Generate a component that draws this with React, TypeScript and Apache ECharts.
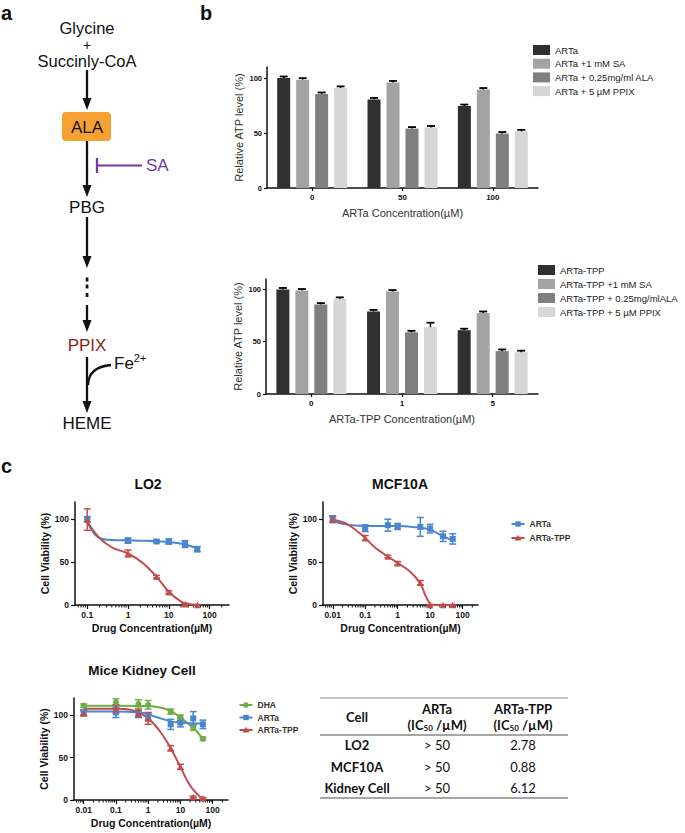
import React, { useEffect, useRef } from 'react';
import * as echarts from 'echarts';

const FONT = '"Liberation Sans", Arial, Helvetica, sans-serif';
const TFONT = 'Lato, "Liberation Sans", sans-serif';

// ---------------- Panel b: relative ATP level ----------------
const bTopCategories = ['0', '50', '100'];
const bTopNames = ['ARTa', 'ARTa +1 mM SA', 'ARTa + 0.25mg/ml ALA', 'ARTa + 5 µM PPIX'];
const bTopArta = [100, 80.5, 74.5];
const bTopSA = [98.5, 96, 89.5];
const bTopALA = [85.5, 54, 49.5];
const bTopPPIX = [91, 55, 51.5];
const bTopErr = [
  [0.5, 1.2, 0.6],
  [0.6, 1.2, 0.8],
  [1.2, 0.8, 1.0],
  [0.6, 0.6, 0.5],
];

const bBotCategories = ['0', '1', '5'];
const bBotNames = ['ARTa-TPP', 'ARTa-TPP +1 mM SA', 'ARTa-TPP + 0.25mg/mlALA', 'ARTa-TPP + 5 µM PPIX'];
const bBotArta = [100, 79, 61];
const bBotSA = [99, 98, 77.5];
const bBotALA = [85.5, 59, 41];
const bBotPPIX = [91, 64, 40];
const bBotErr = [
  [0.4, 0.3, 0.4],
  [0.5, 0.8, 0.8],
  [1.0, 1.2, 1.6],
  [0.5, 4.2, 0.5],
];

const barColors = ['#303030', '#a3a3a3', '#7f7f7f', '#d6d6d6'];
const yTicksB = [0, 50, 100];

// ---------------- Panel c: cell viability ----------------
const yTicksC = [0, 50, 100];

const lo2X = [0.1, 1, 5, 10, 25, 50];
const lo2ArtaY = [100, 75, 74, 74, 71, 65];
const lo2ArtaErr = [3, 3, 1.5, 3, 4, 3];
const lo2TppY = [99.5, 60, 33, 15, 1, 0];
const lo2TppErr = [12.5, 4, 1.5, 1.5, 1, 0.5];
const lo2ArtaFit = [[0.1, 96], [0.13, 87], [0.17, 80], [0.25, 76.5], [0.5, 75.5], [1, 75.3], [3, 74.8], [10, 73.5], [25, 70.5], [50, 66]];
const lo2TppFit = [[0.1, 97], [0.15, 85], [0.2, 78], [0.3, 71], [0.45, 66], [1, 60], [2.3, 49], [5, 33], [10, 15.5], [20, 4], [30, 1.2], [50, 0]];

const mcfX = [0.01, 0.1, 0.5, 1, 5, 10, 25, 50];
const mcfArtaY = [100, 89.5, 93, 91.5, 91, 89, 80, 77];
const mcfArtaErr = [4, 4, 7, 3.5, 11, 5, 6, 6];
const mcfTppY = [100, 78, 56.5, 48.5, 26, 0, 0, 0];
const mcfTppErr = [3, 3, 1.5, 2, 2.5, 0.5, 0.5, 0.5];
const mcfArtaFit = [[0.01, 97.5], [0.02, 94.5], [0.05, 92.5], [0.1, 92], [1, 92], [3, 91], [10, 88], [20, 82], [50, 75]];
const mcfTppFit = [[0.01, 99.5], [0.03, 93.5], [0.1, 78], [0.2, 67], [0.5, 56.5], [1, 49], [2.4, 39], [5, 25], [7, 12], [9, 4], [12, 0], [50, 0]];

const kidX = [0.01, 0.1, 0.5, 1, 5, 10, 25, 50];
const kidDhaY = [111, 115, 113, 112, 104, 97, 85, 72];
const kidDhaErr = [2, 4, 5, 5, 3, 3, 3, 2];
const kidArtaY = [103, 103, 101, 98, 89, 91, 96, 89];
const kidArtaErr = [3, 6, 4, 4, 6, 5, 8, 5];
const kidTppY = [102, 107, 102, 96, 61, 39, 3.5, 2];
const kidTppErr = [3, 5, 4, 7, 3, 3, 1, 1];
const kidDhaFit = [[0.01, 111], [0.1, 111], [1, 110.5], [3, 108], [6, 103], [10, 97], [25, 85], [50, 72]];
const kidArtaFit = [[0.01, 104], [0.1, 104], [0.5, 103], [1, 101], [2, 97], [5, 92.5], [10, 91], [50, 90]];
const kidTppFit = [[0.01, 107.5], [0.1, 107.5], [0.3, 106], [1, 96], [2.4, 80], [5, 61], [10, 39], [20, 17], [40, 4], [50, 2.5]];

// IC50 table
const tableCells = ['LO2', 'MCF10A', 'Kidney Cell'];
const tableArta = ['> 50', '> 50', '> 50'];
const tableTpp = ['2.78', '0.88', '6.12'];

const BLUE = '#4a86cf';
const RED = '#c24b4b';
const GREEN = '#70ad47';
const INK = '#111';

const minorMultipliers = [2, 3, 4, 5, 6, 7, 8, 9];
const decades = [0.001, 0.01, 0.1, 1, 10, 100];
function minorTicks(min: number, max: number) {
  const out: number[][] = [];
  decades.forEach((d) =>
    minorMultipliers.forEach((m) => {
      const v = +(d * m).toPrecision(3);
      if (v > min && v < max) out.push([v, 0]);
    })
  );
  return out;
}

function txt(text: string, x: number, y: number, size: number, extra: any = {}) {
  const { fill = INK, weight = 'normal', align = 'center', family = FONT, rich, lineHeight } = extra;
  const style: any = {
    text,
    fill,
    fontSize: size,
    fontWeight: weight,
    fontFamily: family,
    align,
    textAlign: align,
    verticalAlign: 'middle',
    textVerticalAlign: 'middle',
  };
  if (rich) style.rich = rich;
  if (lineHeight) style.lineHeight = lineHeight;
  return { type: 'text', x, y, silent: true, style };
}

function arrow(x: number, y1: number, tip: number) {
  return [
    { type: 'line', silent: true, shape: { x1: x, y1, x2: x, y2: tip - 9 }, style: { stroke: INK, lineWidth: 2.3 } },
    {
      type: 'polygon',
      silent: true,
      shape: { points: [[x - 4.5, tip - 12], [x + 4.5, tip - 12], [x, tip]] },
      style: { fill: INK },
    },
  ];
}

function line(x1: number, y1: number, x2: number, y2: number, stroke: string, lineWidth: number) {
  return { type: 'line', silent: true, shape: { x1, y1, x2, y2 }, style: { stroke, lineWidth } };
}

function buildOption() {
  const graphic: any[] = [];

  // ---- panel labels
  graphic.push(txt('a', 1, 13, 20, { weight: 'bold', align: 'left' }));
  graphic.push(txt('b', 200, 13, 20, { weight: 'bold', align: 'left' }));
  graphic.push(txt('c', 1, 466, 20, { weight: 'bold', align: 'left' }));

  // ---- panel a: heme pathway
  graphic.push(txt('Glycine', 87, 28, 16.5));
  graphic.push(txt('+', 87, 45, 14));
  graphic.push(txt('Succinly-CoA', 87, 61, 16.5));
  graphic.push(...arrow(87, 70, 110));
  graphic.push({
    type: 'rect',
    silent: true,
    shape: { x: 62, y: 112, width: 49, height: 29, r: 4 },
    style: { fill: '#f6a131' },
  });
  graphic.push(txt('ALA', 87, 127, 17));
  graphic.push(...arrow(87, 141, 197));
  graphic.push(line(97, 158, 97, 173, '#7139a3', 2.3));
  graphic.push(line(97, 165.5, 142, 165.5, '#7139a3', 2));
  graphic.push(txt('SA', 146, 165.5, 17, { fill: '#7139a3', align: 'left' }));
  graphic.push(txt('PBG', 87, 207, 17));
  graphic.push(...arrow(87, 217, 268));
  [279.5, 286.5, 295].forEach((y) =>
    graphic.push({ type: 'rect', silent: true, shape: { x: 85.7, y: y - 2, width: 2.7, height: 4 }, style: { fill: INK } })
  );
  graphic.push(...arrow(87, 305, 332));
  graphic.push(txt('PPIX', 87, 345, 17, { fill: '#8b1e22' }));
  graphic.push(...arrow(87, 357, 413));
  graphic.push({
    type: 'bezierCurve',
    silent: true,
    shape: { x1: 88, y1: 385, x2: 111, y2: 365, cpx1: 88.5, cpy1: 367 },
    style: { stroke: INK, lineWidth: 2.3, fill: 'none' },
  });
  graphic.push(
    txt('Fe{sup|2+}', 114, 363, 17, {
      align: 'left',
      lineHeight: 22,
      rich: { sup: { fontSize: 11, fontFamily: FONT, fill: INK, verticalAlign: 'top', lineHeight: 9 } },
    })
  );
  graphic.push(txt('HEME', 87, 423, 17));

  // ---- panel c titles
  graphic.push(txt('LO2', 148, 484, 14, { weight: 'bold' }));
  graphic.push(txt('MCF10A', 400, 484, 14, { weight: 'bold' }));
  graphic.push(txt('Mice Kidney Cell', 142, 670, 13.5, { weight: 'bold' }));

  // ---- panel c legends (drawn manually)
  const legendItem = (x: number, y: number, color: string, marker: string, label: string) => {
    graphic.push(line(x - 6.5, y, x + 6.5, y, color, 2));
    if (marker === 'rect') {
      graphic.push({ type: 'rect', silent: true, shape: { x: x - 2.7, y: y - 2.7, width: 5.4, height: 5.4 }, style: { fill: color } });
    } else if (marker === 'triangle') {
      graphic.push({
        type: 'polygon',
        silent: true,
        shape: { points: [[x, y - 3.2], [x - 3.5, y + 2.6], [x + 3.5, y + 2.6]] },
        style: { fill: color },
      });
    } else {
      graphic.push({ type: 'circle', silent: true, shape: { cx: x, cy: y, r: 2.8 }, style: { fill: color } });
    }
    graphic.push(txt(label, x + 11.5, y, 8.5, { weight: 'bold', align: 'left', fill: '#333' }));
  };
  legendItem(518, 524, BLUE, 'rect', 'ARTa');
  legendItem(518, 538, RED, 'triangle', 'ARTa-TPP');
  legendItem(246, 705, GREEN, 'circle', 'DHA');
  legendItem(246, 717.5, BLUE, 'rect', 'ARTa');
  legendItem(246, 730, RED, 'triangle', 'ARTa-TPP');

  // ---- IC50 table
  graphic.push(line(320, 698, 568, 698, '#8a8a8a', 1.2));
  graphic.push(line(320, 735, 568, 735, '#a6a6a6', 2));
  graphic.push(line(320, 798, 568, 798, '#a6a6a6', 2));
  const rich = {
    s: { fontSize: 8, fontWeight: 'bold', fontFamily: TFONT, fill: INK, verticalAlign: 'bottom', lineHeight: 9 },
  };
  graphic.push(txt('Cell', 357, 717, 13, { weight: 'bold', family: TFONT }));
  graphic.push(txt('ARTa', 437, 709, 13, { weight: 'bold', family: TFONT }));
  graphic.push(txt('(IC{s|50} /µM)', 437, 725, 13, { weight: 'bold', family: TFONT, rich }));
  graphic.push(txt('ARTa-TPP', 523, 709, 13, { weight: 'bold', family: TFONT }));
  graphic.push(txt('(IC{s|50} /µM)', 523, 725, 13, { weight: 'bold', family: TFONT, rich }));
  const rowY = [745, 767, 788];
  tableCells.forEach((c, i) => {
    graphic.push(txt(c, 357, rowY[i], 13, { weight: 'bold', family: TFONT }));
    graphic.push(txt(tableArta[i], 437, rowY[i], 13, { family: TFONT }));
    graphic.push(txt(tableTpp[i], 523, rowY[i], 13, { family: TFONT }));
  });

  // ---------------- grids / axes ----------------
  const grid = [
    { left: 267, top: 67, width: 271, height: 121 },
    { left: 266, top: 279, width: 272, height: 115 },
    { left: 75, top: 502, width: 154, height: 103 },
    { left: 323, top: 502, width: 155, height: 103 },
    { left: 74, top: 698, width: 154, height: 102 },
  ].map((g) => ({ ...g, containLabel: false, outerBoundsMode: 'none', show: false }));

  const axisLine = { show: true, onZero: false, lineStyle: { color: INK, width: 1.5 } };

  const bX = (gi: number, data: string[], name: string) => ({
    type: 'category',
    gridIndex: gi,
    data,
    axisLine,
    axisTick: { show: true, alignWithLabel: true, length: 3, lineStyle: { color: INK, width: 1.2 } },
    axisLabel: { fontSize: 8, fontWeight: 'bold', color: INK, margin: 5, fontFamily: FONT },
    splitLine: { show: false },
    name,
    nameLocation: 'middle',
    nameGap: 19,
    nameTextStyle: { fontSize: 11, color: '#333', fontFamily: FONT },
  });
  const bY = (gi: number) => ({
    type: 'value',
    gridIndex: gi,
    min: 0,
    max: 110,
    axisLine,
    axisTick: { show: true, length: 3, customValues: yTicksB, lineStyle: { color: INK, width: 1.2 } },
    axisLabel: { customValues: yTicksB, fontSize: 7.5, fontWeight: 'bold', color: INK, margin: 5, fontFamily: FONT },
    splitLine: { show: false },
    name: 'Relative ATP level (%)',
    nameLocation: 'middle',
    nameGap: 23,
    nameRotate: 90,
    nameTextStyle: { fontSize: 11, color: '#333', fontFamily: FONT },
  });

  const fmtLog = (v: number) => String(parseFloat(Number(v).toPrecision(3)));
  const cX = (gi: number, min: number) => ({
    type: 'log',
    logBase: 10,
    gridIndex: gi,
    min,
    max: 300,
    axisLine,
    axisTick: { show: true, length: 4, lineStyle: { color: INK, width: 1.2 } },
    axisLabel: {
      showMinLabel: false,
      showMaxLabel: false,
      fontSize: 8.5,
      fontWeight: 'bold',
      color: INK,
      margin: 5,
      fontFamily: FONT,
      formatter: fmtLog,
    },
    splitLine: { show: false },
    minorTick: { show: false },
    name: 'Drug Concentration(µM)',
    nameLocation: 'middle',
    nameGap: 17,
    nameTextStyle: { fontSize: 10.5, fontWeight: 'bold', color: INK, fontFamily: FONT },
  });
  const cY = (gi: number) => ({
    type: 'value',
    gridIndex: gi,
    min: 0,
    max: 120,
    axisLine,
    axisTick: { show: true, length: 4, customValues: yTicksC, lineStyle: { color: INK, width: 1.2 } },
    axisLabel: { customValues: yTicksC, fontSize: 8.5, fontWeight: 'bold', color: INK, margin: 6, fontFamily: FONT },
    splitLine: { show: false },
    name: 'Cell Viability (%)',
    nameLocation: 'middle',
    nameGap: 25,
    nameRotate: 90,
    nameTextStyle: { fontSize: 10.5, fontWeight: 'bold', color: INK, fontFamily: FONT },
  });

  const xAxis = [
    bX(0, bTopCategories, 'ARTa Concentration(µM)'),
    bX(1, bBotCategories, 'ARTa-TPP Concentration(µM)'),
    cX(2, 0.05),
    cX(3, 0.005),
    cX(4, 0.005),
  ];
  const yAxis = [bY(0), bY(1), cY(2), cY(3), cY(4)];

  // ---------------- series ----------------
  const series: any[] = [];
  const barWidth = 13;
  const barStep = barWidth * 1.46;

  const addBars = (gi: number, names: string[], values: number[][], errs: number[][]) => {
    values.forEach((vals, s) => {
      series.push({
        type: 'bar',
        name: names[s],
        xAxisIndex: gi,
        yAxisIndex: gi,
        data: vals,
        barWidth,
        barGap: '46%',
        itemStyle: { color: barColors[s] },
        z: 2,
      });
    });
    const errData: number[][] = [];
    values.forEach((vals, s) => vals.forEach((v, i) => errData.push([i, v, errs[s][i], s])));
    series.push({
      type: 'custom',
      name: 'err' + gi,
      xAxisIndex: gi,
      yAxisIndex: gi,
      data: errData,
      encode: { x: 0, y: 1 },
      z: 5,
      silent: true,
      renderItem: (params: any, api: any) => {
        const i = api.value(0);
        const v = api.value(1);
        const e = api.value(2);
        const s = api.value(3);
        const base = api.coord([i, v]);
        const top = api.coord([i, v + e]);
        const x = base[0] + (s - 1.5) * barStep;
        const ty = Math.min(top[1], base[1] - 1.5);
        return {
          type: 'group',
          children: [
            { type: 'line', shape: { x1: x, y1: base[1], x2: x, y2: ty }, style: { stroke: '#000', lineWidth: 1.5 } },
            { type: 'line', shape: { x1: x - 4, y1: ty, x2: x + 4, y2: ty }, style: { stroke: '#000', lineWidth: 1.8 } },
          ],
        };
      },
    });
  };
  addBars(0, bTopNames, [bTopArta, bTopSA, bTopALA, bTopPPIX], bTopErr);
  addBars(1, bBotNames, [bBotArta, bBotSA, bBotALA, bBotPPIX], bBotErr);

  const addCurve = (
    gi: number,
    key: string,
    xs: number[],
    ys: number[],
    errs: number[],
    fit: number[][],
    color: string,
    symbol: string,
    size: any
  ) => {
    series.push({
      type: 'line',
      name: key + ' fit',
      xAxisIndex: gi,
      yAxisIndex: gi,
      data: fit,
      smooth: 0.35,
      symbol: 'none',
      lineStyle: { color, width: 2 },
      z: 3,
      silent: true,
    });
    series.push({
      type: 'custom',
      name: key + ' err',
      xAxisIndex: gi,
      yAxisIndex: gi,
      data: xs.map((x, i) => [x, ys[i], errs[i]]),
      encode: { x: 0, y: 1 },
      z: 4,
      silent: true,
      renderItem: (params: any, api: any) => {
        const x = api.value(0);
        const y = api.value(1);
        const e = api.value(2);
        const lo = api.coord([x, Math.max(0, y - e)]);
        const hi = api.coord([x, y + e]);
        const w = 3.5;
        const st = { stroke: color, lineWidth: 1.5 };
        return {
          type: 'group',
          children: [
            { type: 'line', shape: { x1: lo[0], y1: lo[1], x2: hi[0], y2: hi[1] }, style: st },
            { type: 'line', shape: { x1: hi[0] - w, y1: hi[1], x2: hi[0] + w, y2: hi[1] }, style: st },
            { type: 'line', shape: { x1: lo[0] - w, y1: lo[1], x2: lo[0] + w, y2: lo[1] }, style: st },
          ],
        };
      },
    });
    series.push({
      type: 'scatter',
      name: key,
      xAxisIndex: gi,
      yAxisIndex: gi,
      data: xs.map((x, i) => [x, ys[i]]),
      symbol,
      symbolSize: size,
      itemStyle: { color, opacity: 1 },
      z: 6,
      silent: true,
    });
  };

  addCurve(2, 'LO2 ARTa', lo2X, lo2ArtaY, lo2ArtaErr, lo2ArtaFit, BLUE, 'rect', 6);
  addCurve(2, 'LO2 ARTa-TPP', lo2X, lo2TppY, lo2TppErr, lo2TppFit, RED, 'triangle', 6.5);
  addCurve(3, 'MCF10A ARTa', mcfX, mcfArtaY, mcfArtaErr, mcfArtaFit, BLUE, 'rect', 6);
  addCurve(3, 'MCF10A ARTa-TPP', mcfX, mcfTppY, mcfTppErr, mcfTppFit, RED, 'triangle', 6.5);
  addCurve(4, 'Kidney DHA', kidX, kidDhaY, kidDhaErr, kidDhaFit, GREEN, 'circle', 6);
  addCurve(4, 'Kidney ARTa', kidX, kidArtaY, kidArtaErr, kidArtaFit, BLUE, 'rect', 6);
  addCurve(4, 'Kidney ARTa-TPP', kidX, kidTppY, kidTppErr, kidTppFit, RED, 'triangle', 6.5);

  // minor log ticks
  [
    [2, 0.05],
    [3, 0.005],
    [4, 0.005],
  ].forEach(([gi, min]) => {
    series.push({
      type: 'custom',
      name: 'minor' + gi,
      xAxisIndex: gi,
      yAxisIndex: gi,
      data: minorTicks(min, 300),
      encode: { x: 0, y: 1 },
      silent: true,
      z: 1,
      renderItem: (params: any, api: any) => {
        const p = api.coord([api.value(0), 0]);
        return { type: 'line', shape: { x1: p[0], y1: p[1], x2: p[0], y2: p[1] + 2.5 }, style: { stroke: INK, lineWidth: 1 } };
      },
    });
  });

  const legendBase = {
    orient: 'vertical',
    itemWidth: 17,
    itemHeight: 10,
    icon: 'rect',
    padding: 0,
    selectedMode: false,
    textStyle: { fontSize: 9.5, color: '#222', fontFamily: FONT, lineHeight: 10 },
  };

  return {
    animation: false,
    backgroundColor: '#ffffff',
    grid,
    xAxis,
    yAxis,
    series,
    legend: [
      { ...legendBase, data: bTopNames, left: 533, top: 45, itemGap: 3.7 },
      { ...legendBase, data: bBotNames, left: 538, top: 265, itemGap: 4 },
    ],
    graphic: { elements: graphic },
  };
}

export default function App() {
  const ref = useRef<HTMLDivElement>(null);
  useEffect(() => {
    if (!ref.current) return;
    const chart = echarts.init(ref.current, undefined, { renderer: 'svg' });
    chart.setOption(buildOption() as any);
    return () => chart.dispose();
  }, []);
  return (
    <div
      ref={ref}
      style={{ position: 'absolute', left: 0, top: 0, width: 685, height: 833, background: '#fff' }}
    />
  );
}
